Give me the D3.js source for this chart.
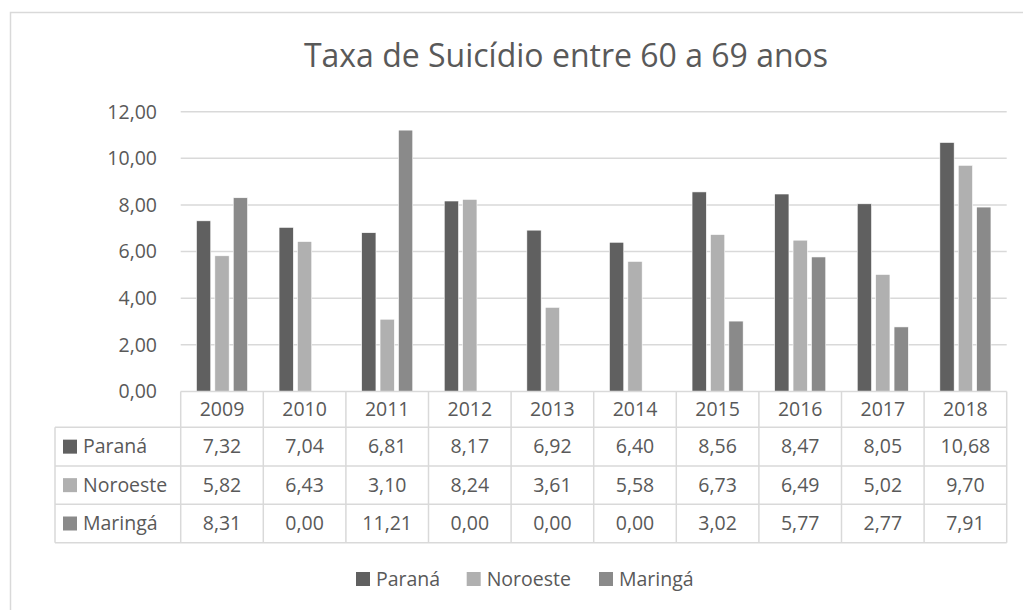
<!DOCTYPE html>
<html><head><meta charset="utf-8">
<script src="https://cdn.jsdelivr.net/npm/d3@7"></script>
<style>body{margin:0;background:#fff}svg{display:block}text{font-family:"Open Sans",sans-serif;fill:#595959}</style>
</head><body>
<script>
const years = ["2009","2010","2011","2012","2013","2014","2015","2016","2017","2018"];
const seriesNames = ["Paraná","Noroeste","Maringá"];
const parana   = [7.32,7.04,6.81,8.17,6.92,6.40,8.56,8.47,8.05,10.68];
const noroeste = [5.82,6.43,3.10,8.24,3.61,5.58,6.73,6.49,5.02,9.70];
const maringa  = [8.31,0.00,11.21,0.00,0.00,0.00,3.02,5.77,2.77,7.91];
const yTicks = [0,2,4,6,8,10,12];
const colors = ["#606060","#b0b0b0","#8a8a8a"];
const title = "Taxa de Suicídio entre 60 a 69 anos";
const values = [parana, noroeste, maringa];

const W=1023,H=610;
const svg=d3.select("body").append("svg").attr("width",W).attr("height",H);
const loc=d3.formatLocale({decimal:",",thousands:".",grouping:[3],currency:["R$",""]});
const fmt=loc.format(".2f");
const grid="#d9d9d9";
const FS=19.5;

svg.append("rect").attr("x",10.5).attr("y",12.5).attr("width",1040).attr("height",640)
  .attr("fill","#fff").attr("stroke",grid).attr("stroke-width",1.5);

svg.append("text").attr("x",566).attr("y",67).attr("text-anchor","middle")
  .attr("font-size",32).text(title);

const x=d3.scaleBand().domain(years).range([180.7,1006.7]).padding(0);
const xi=d3.scaleBand().domain(seriesNames).range([0,x.bandwidth()]).paddingInner(0.223).paddingOuter(0.856);
const y=d3.scaleLinear().domain([0,12]).range([391.5,111.7]);

// gridlines
svg.append("g").selectAll("line").data(yTicks.filter(d=>d>0)).join("line")
  .attr("x1",180.7).attr("x2",1006.7).attr("y1",d=>y(d)).attr("y2",d=>y(d))
  .attr("stroke",grid).attr("stroke-width",1.5);
// y labels
svg.append("g").selectAll("text").data(yTicks).join("text")
  .attr("x",157).attr("y",d=>y(d)).attr("dy","0.35em").attr("text-anchor","end")
  .attr("font-size",FS).text(d=>fmt(d));

// bars
seriesNames.forEach((s,si)=>{
  svg.append("g").selectAll("rect").data(values[si]).join("rect")
    .attr("x",(d,i)=>x(years[i])+xi(s)).attr("width",xi.bandwidth())
    .attr("y",d=>y(d)).attr("height",d=>y(0)-y(d))
    .attr("fill",colors[si]).attr("stroke","#fff").attr("stroke-width",0.6);
});

// data table
const rowTop=[391.5,427.3,466,504.3,542.7];
const tbl=svg.append("g").attr("stroke",grid).attr("stroke-width",1.5);
tbl.append("line").attr("x1",180.7).attr("x2",1006.7).attr("y1",rowTop[0]).attr("y2",rowTop[0]);
rowTop.slice(1).forEach(yy=>tbl.append("line").attr("x1",55).attr("x2",1006.7).attr("y1",yy).attr("y2",yy));
tbl.append("line").attr("x1",55).attr("x2",55).attr("y1",rowTop[1]).attr("y2",rowTop[4]);
years.concat(["end"]).forEach((yr,i)=>{
  const xx=180.7+i*x.step();
  tbl.append("line").attr("x1",xx).attr("x2",xx).attr("y1",rowTop[0]).attr("y2",rowTop[4]);
});
svg.append("g").selectAll("text").data(years).join("text")
  .attr("x",d=>x(d)+x.bandwidth()/2).attr("y",(rowTop[0]+rowTop[1])/2).attr("dy","0.35em")
  .attr("text-anchor","middle").attr("font-size",FS).text(d=>d);
seriesNames.forEach((s,si)=>{
  const cy=(rowTop[si+1]+rowTop[si+2])/2;
  svg.append("rect").attr("x",63).attr("y",cy-7).attr("width",14).attr("height",14).attr("fill",colors[si]);
  svg.append("text").attr("x",83).attr("y",cy).attr("dy","0.35em").attr("font-size",FS).text(s);
  svg.append("g").selectAll("text").data(values[si]).join("text")
    .attr("x",(d,i)=>x(years[i])+x.bandwidth()/2).attr("y",cy).attr("dy","0.35em")
    .attr("text-anchor","middle").attr("font-size",FS).text(d=>fmt(d));
});

// legend
const legX=[356,466.7,599];
seriesNames.forEach((s,si)=>{
  svg.append("rect").attr("x",legX[si]).attr("y",579-7).attr("width",14).attr("height",14).attr("fill",colors[si]);
  svg.append("text").attr("x",legX[si]+20).attr("y",579).attr("dy","0.35em").attr("font-size",FS).text(s);
});
</script>
</body></html>
